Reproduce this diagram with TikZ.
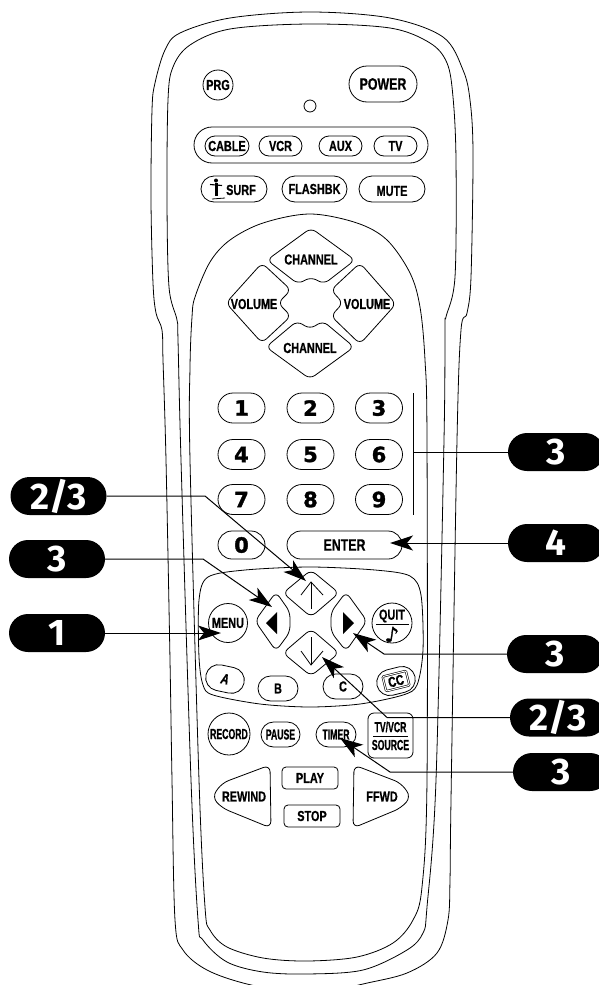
\documentclass[tikz,border=0pt]{standalone}
\usepackage{fontspec}
\setmainfont{Liberation Sans}
\newfontfamily\keyfont[FakeStretch=.75,BoldFeatures={FakeBold=.7},BoldItalicFeatures={FakeBold=.7}]{Liberation Sans}
\newfontfamily\slimfont[FakeStretch=.6,BoldFeatures={FakeBold=.7}]{Liberation Sans}
\newfontfamily\numfont[BoldFeatures={FakeBold=1.5}]{DejaVu Sans}
\newfontfamily\badgefont{Fira Sans}
\usetikzlibrary{arrows.meta,shapes.misc}
\tikzset{
  bodyline/.style={line width=.8pt},
  keytext/.style={font=\keyfont\bfseries\fontsize{14.5}{15}\selectfont,inner sep=0pt},
  slimtext/.style={font=\slimfont\bfseries\fontsize{14.5}{15}\selectfont,inner sep=0pt},
  pill/.style={draw,rounded rectangle,keytext,line width=.8pt},
  roundkey/.style={draw,circle,keytext,line width=.8pt},
  numkey/.style={pill,font=\numfont\bfseries\fontsize{21}{21}\selectfont,minimum width=47pt,minimum height=30pt},
  boxkey/.style={draw,rectangle,rounded corners=4pt,keytext,line width=.8pt,minimum width=56pt,minimum height=22pt},
  padkey/.style={line width=.8pt,rounded corners=6pt},
  badge/.style={fill=black,text=white,rounded rectangle,inner sep=0pt,minimum width=96pt,minimum height=38pt,font=\badgefont\bfseries\fontsize{37}{37}\selectfont},
  callout/.style={line width=1pt,-{Stealth[length=23pt,width=15pt,inset=6pt]}},
  plainline/.style={line width=1pt}
}
\begin{document}
\begin{tikzpicture}[x=1pt,y=-1pt]
\useasboundingbox (0,0) rectangle (598,985);
\draw[bodyline] plot[smooth,tension=.55] coordinates {(310,996) (247,984) (207,970) (183,950) (175,920) (172,780) (170,660) (166,460) (163,360) (162,330) (156,313) (153,283) (151,200) (152,110) (155,83) (165,50) (180,33) (230,18) (310,12) (390,18) (443,37) (463,70) (470,100) (473,153) (471,277) (467,313) (461,330) (457,440) (451,800) (450,880) (448,920) (437,953) (407,973) (363,984) (310,996)};
\draw[bodyline] plot[smooth cycle,tension=.55] coordinates {(307,974) (263,972) (227,962) (203,940) (198,920) (191,780) (181,460) (178,340) (177,320) (169,287) (167,200) (168,100) (173,67) (190,45) (230,29) (310,24) (390,28) (430,43) (447,63) (453,97) (456,160) (455,277) (446,317) (445,327) (444,440) (436,780) (427,907) (423,933) (407,950) (363,970)};
\draw[bodyline] plot[smooth cycle,tension=.55] coordinates {(307,961) (263,958) (227,947) (210,930) (205,907) (199,780) (190,460) (190,367) (192,317) (195,297) (210,262) (230,240) (263,223) (310,214) (357,223) (387,240) (410,273) (420,307) (425,360) (427,440) (427,780) (422,887) (413,920) (393,943) (357,957)};
\node[roundkey,minimum size=30pt] (prg) at (218,85) {PRG};
\node[pill,minimum width=68pt,minimum height=36pt,font=\keyfont\bfseries\fontsize{16.5}{17}\selectfont] (power) at (383,84) {POWER};
\node[draw,circle,line width=.8pt,minimum size=12pt,inner sep=0pt] (led) at (310,106) {};
\node[pill,minimum width=234pt,minimum height=36pt] (devices) at (311,145) {};
\node[pill,minimum width=44pt,minimum height=20pt] (cable) at (227,146) {CABLE};
\node[pill,minimum width=43pt,minimum height=20pt] (vcr) at (280.5,146) {VCR};
\node[pill,minimum width=43pt,minimum height=20pt] (aux) at (340.5,146) {AUX};
\node[pill,minimum width=43pt,minimum height=20pt] (tv) at (395.5,146) {TV};
\node[draw,rounded rectangle,line width=.8pt,minimum width=66pt,minimum height=26pt,inner sep=0pt] (surfkey) at (234,189) {};
\node[keytext] (surf) at (241,190) {SURF};
\fill (216,180.5) circle (2pt);
\draw[line width=3pt] (216,183)--(216,196);
\draw[line width=1.1pt] (210,184.5)--(222,185.5);
\draw[line width=.8pt] (212,199)--(225,198);
\node[pill,minimum width=65pt,minimum height=26pt] (flashbk) at (314.5,189) {FLASHBK};
\node[draw,rounded rectangle,line width=.8pt,minimum width=66pt,minimum height=26pt,inner sep=0pt] (mutekey) at (392,189) {};
\node[keytext] (mute) at (392,191) {MUTE};
\draw[padkey] (267,260)--(311,228)--(355,260)--(324,284)--(311,277)--(298,284)--cycle;
\node[keytext] (chup) at (311,259.5) {CHANNEL};
\draw[padkey] (266,347)--(297,321)--(310,329)--(323,321)--(354,347)--(310,379)--cycle;
\node[keytext] (chdown) at (310,348) {CHANNEL};
\draw[padkey] (226,303)--(262,263)--(291,290)--(278,303)--(291,316)--(262,343)--cycle;
\node[keytext] (voldown) at (254,304) {VOLUME};
\draw[padkey] (396,304)--(360,263)--(331,290)--(343,303)--(331,316)--(360,344)--cycle;
\node[keytext] (volup) at (367,304) {VOLUME};
\node[numkey] (one) at (241.5,408) {1};
\node[numkey] (two) at (310.5,408) {2};
\node[numkey] (three) at (379,408) {3};
\node[numkey] (four) at (241.5,454.5) {4};
\node[numkey] (five) at (310.5,454.5) {5};
\node[numkey] (six) at (379,454.5) {6};
\node[numkey] (seven) at (241.5,499.5) {7};
\node[numkey] (eight) at (310.5,499.5) {8};
\node[numkey] (nine) at (379,499.5) {9};
\node[numkey,minimum height=28pt] (zero) at (241.5,545) {0};
\node[pill,minimum width=115pt,minimum height=28pt,font=\keyfont\bfseries\fontsize{16.5}{17}\selectfont] (enter) at (344.5,545) {ENTER};
\draw[line width=.8pt] plot[smooth cycle,tension=.5] coordinates {(310,567) (375,570) (410,576) (421,595) (423,650) (417,685) (403,695) (360,704) (310,707) (260,704) (213,695) (203,685) (199,657) (199,600) (208,577) (245,570)};
\node[roundkey,minimum size=39pt] (menu) at (228,623) {MENU};
\draw[padkey] (255,621)--(276,592)--(290,612)--(290,632)--(276,651)--cycle;
\fill (266,623)--(277,612)--(277,634)--cycle;
\draw[padkey] (331,612)--(346,592)--(367,621)--(346,651)--(331,632)--cycle;
\fill (354,623)--(343,612)--(343,634)--cycle;
\draw[padkey] (283,593)--(311,570)--(339,593)--(311,617)--cycle;
\draw[line width=.8pt] (311,609)--(311,582);
\draw[line width=.8pt] (301,595)--(311,582)--(323,595);
\draw[padkey] (283,653)--(311,629)--(339,653)--(311,676)--cycle;
\draw[line width=.8pt] (311,637)--(311,665);
\draw[line width=.8pt] (301,651)--(311,665)--(323,651);
\node[roundkey,minimum size=40pt] (quitkey) at (392,623) {};
\node[keytext] (quit) at (392,616) {QUIT};
\draw[line width=.8pt] (376,624)--(409,624);
\node[inner sep=0pt,rotate=-8,font=\numfont\bfseries\fontsize{21}{21}\selectfont] (note) at (392,634.5) {♪};
\node[pill,rotate=-12,minimum width=39pt,minimum height=26pt,font=\keyfont\bfseries\itshape\fontsize{14.5}{15}\selectfont] (a) at (225,679) {A};
\node[pill,minimum width=40pt,minimum height=25pt] (b) at (278,688.5) {B};
\node[pill,minimum width=40pt,minimum height=25pt] (c) at (343,686.5) {C};
\node[draw,rounded rectangle,rotate=14,line width=.8pt,minimum width=39pt,minimum height=26pt,inner sep=0pt] (ccpill) at (396,681) {};
\node[draw,double,rotate=14,line width=.6pt,double distance=1pt,rounded corners=1pt,minimum width=24pt,minimum height=15pt,inner sep=0pt] (ccbox) at (396,681) {};
\node[keytext,rotate=14] (cc) at (396,681) {CC};
\node[draw,circle,slimtext,line width=.8pt,minimum size=42pt] (record) at (229,734) {RECORD};
\node[draw,rounded rectangle,slimtext,line width=.8pt,minimum width=39pt,minimum height=25pt] (pause) at (280.5,734.5) {PAUSE};
\node[draw,rounded rectangle,slimtext,line width=.8pt,minimum width=40pt,minimum height=25pt] (timer) at (336,734.5) {TIMER};
\node[draw,rectangle,rounded corners=6pt,line width=.8pt,minimum width=45pt,minimum height=45pt,inner sep=0pt] (tvbox) at (390.5,735.5) {};
\node[slimtext] (tvvcr) at (390.5,727) {TV/VCR};
\node[slimtext] (source) at (390.5,745) {SOURCE};
\draw[line width=.8pt] (373,736)--(408,736);
\draw[line width=.8pt,rounded corners=7pt] (270,765)--(271,828)--(222,808)--(212,797)--(222,783)--cycle;
\node[keytext] (rewind) at (244,796.5) {REWIND};
\draw[line width=.8pt,rounded corners=7pt] (354,765)--(353,828)--(401,808)--(411,797)--(401,783)--cycle;
\node[keytext] (ffwd) at (382,796.5) {FFWD};
\node[boxkey] (play) at (310,778) {PLAY};
\node[boxkey] (stop) at (312,816) {STOP};
\node[badge] (badgeup) at (58.5,496) {2/3};
\node[badge] (badgeleft) at (57,559) {3};
\node[badge] (badgemenu) at (57,633) {1};
\node[badge] (badgenum) at (556,452) {3};
\node[badge] (badgeenter) at (556,543) {4};
\node[badge] (badgeright) at (555,654) {3};
\node[badge] (badgedown) at (558,717.5) {2/3};
\node[badge] (badgetimer) at (561,772) {3};
\coordinate (bracktop) at (413,393);
\coordinate (brackbot) at (413,515);
\coordinate (brackmid) at (413,452);
\draw[plainline] (bracktop)--(brackbot);
\draw[plainline] (badgenum.west)--(brackmid);
\coordinate (upbend) at (205,496);
\coordinate (uptip) at (306,581);
\draw[callout] (badgeup.east)--(upbend)--(uptip);
\coordinate (leftbend) at (203,559);
\coordinate (lefttip) at (272,607);
\draw[callout] (badgeleft.east)--(leftbend)--(lefttip);
\coordinate (menutip) at (221,633);
\draw[callout] (badgemenu.east)--(menutip);
\coordinate (entertip) at (390,543);
\draw[callout] (badgeenter.west)--(entertip);
\coordinate (rightbend) at (384,654);
\coordinate (righttip) at (353,633);
\draw[callout] (badgeright.west)--(rightbend)--(righttip);
\coordinate (downbend) at (387,717.5);
\coordinate (downtip) at (322,657);
\draw[callout] (badgedown.west)--(downbend)--(downtip);
\coordinate (timerbend) at (390,772);
\coordinate (timertip) at (340,738);
\draw[callout] (badgetimer.west)--(timerbend)--(timertip);
\end{tikzpicture}
\end{document}
